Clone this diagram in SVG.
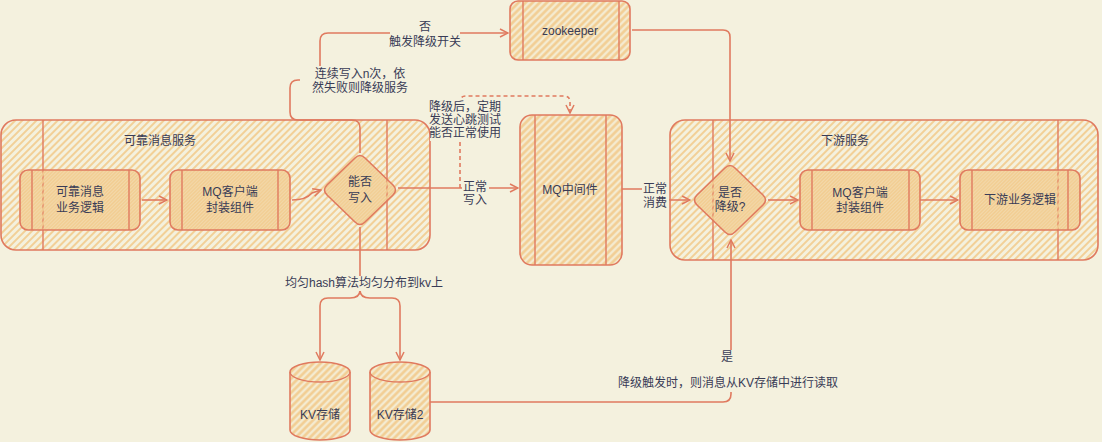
<svg xmlns="http://www.w3.org/2000/svg" width="1102" height="442" viewBox="0 0 1102 442">
<defs>
<pattern id="hc" width="5" height="5" patternUnits="userSpaceOnUse" patternTransform="rotate(45)"><line x1="1" y1="0" x2="1" y2="5" stroke="#F2CC8F" stroke-width="2" stroke-opacity="0.9"/></pattern>
<pattern id="hn" width="5" height="5" patternUnits="userSpaceOnUse" patternTransform="rotate(45)"><rect width="5" height="5" fill="#F2CC8F" fill-opacity="0.18"/><line x1="3.5" y1="0" x2="3.5" y2="5" stroke="#F2CC8F" stroke-width="2.4"/></pattern>
<marker id="arr" viewBox="0 0 10 10" refX="9" refY="5" markerWidth="10" markerHeight="10" markerUnits="userSpaceOnUse" orient="auto"><path d="M1,1 L9,5 L1,9" fill="none" stroke="#E07A5F" stroke-width="1.5"/></marker>
</defs>
<style>
.ct{fill:url(#hc);stroke:#E07A5F;stroke-width:1.6}
.nd{fill:url(#hn);stroke:#E07A5F;stroke-width:1.6}
.ln{fill:none;stroke:#E07A5F;stroke-width:1.4}
.e{fill:none;stroke:#E07A5F;stroke-width:1.6}
.d{stroke-dasharray:4 3}
.t{font-family:"Liberation Sans","Noto Sans CJK SC",sans-serif;font-size:12px;fill:#393C56;text-anchor:middle;dominant-baseline:central}
.bg{fill:#F4F1DE}
</style>
<rect width="1102" height="442" fill="#F4F1DE"/>

<g id="container-left">
<rect class="ct" x="1" y="120" width="429" height="130" rx="15"/>
<line class="ln" x1="43" y1="120" x2="43" y2="250"/>
<line class="ln" x1="387" y1="120" x2="387" y2="250"/>
<text class="t" x="160" y="141">可靠消息服务</text>
</g>
<g id="container-right">
<rect class="ct" x="670" y="120" width="428" height="140" rx="15"/>
<line class="ln" x1="713" y1="120" x2="713" y2="260"/>
<line class="ln" x1="1058" y1="120" x2="1058" y2="260"/>
<text class="t" x="845" y="141">下游服务</text>
</g>

<g id="connectors">
<path class="e" d="M142,200 L167,200" marker-end="url(#arr)"/>
<path class="e" d="M292,200 Q306,200 312,193 L321,190" marker-end="url(#arr)"/>
<path class="e" d="M398,188 L518,188" marker-end="url(#arr)"/>
<path class="e" d="M360,153 L360,128 Q360,120 352,120 L298,120 Q290,120 290,112 L290,88 Q290,80 298,80 L320,80 L320,41 Q320,33 328,33 L508,33" marker-end="url(#arr)"/>
<path class="e" d="M632,30 L723,30 Q730,30 730,37 L730,161" marker-end="url(#arr)"/>
<path class="e d" d="M460,188 L460,102 Q460,96 466,96 L564,96 Q570,96 570,102 L570,113" marker-end="url(#arr)"/>
<path class="e" d="M622,189 L655,189 L655,200 L690,200" marker-end="url(#arr)"/>
<path class="e" d="M768,200 L798,200" marker-end="url(#arr)"/>
<path class="e" d="M920,200 L958,200" marker-end="url(#arr)"/>
<path class="e" d="M360,227 L360,290"/>
<path class="e" d="M360,290 Q360,298 350,298 L328,298 Q320,298 320,306 L320,360" marker-end="url(#arr)"/>
<path class="e" d="M360,290 Q360,298 370,298 L392,298 Q400,298 400,306 L400,360" marker-end="url(#arr)"/>
<path class="e" d="M430,402 L723,402 Q731,402 731,394 L731,240" marker-end="url(#arr)"/>
</g>

<g id="n-biz">
<rect class="nd" x="20" y="170" width="120" height="60" rx="8"/>
<line class="ln" x1="32" y1="170" x2="32" y2="230"/><line class="ln" x1="129" y1="170" x2="129" y2="230"/>
<text class="t" x="80" y="192">可靠消息</text><text class="t" x="80" y="208">业务逻辑</text>
</g>
<g id="n-mqclient-left">
<rect class="nd" x="170" y="170" width="120" height="60" rx="8"/>
<line class="ln" x1="182" y1="170" x2="182" y2="230"/><line class="ln" x1="278" y1="170" x2="278" y2="230"/>
<text class="t" x="230" y="192">MQ客户端</text><text class="t" x="230" y="208">封装组件</text>
</g>
<g id="n-canwrite">
<path class="nd" d="M365,158 L393,185 Q398,190 393,195 L365,222 Q360,227 355,222 L327,195 Q322,190 327,185 L355,158 Q360,153 365,158 Z"/>
<text class="t" x="360" y="182">能否</text><text class="t" x="360" y="198">写入</text>
</g>
<g id="n-zookeeper">
<rect class="nd" x="510" y="1" width="120" height="59" rx="8"/>
<line class="ln" x1="523" y1="1" x2="523" y2="60"/><line class="ln" x1="619" y1="1" x2="619" y2="60"/>
<text class="t" x="570" y="31">zookeeper</text>
</g>
<g id="n-mq">
<rect class="nd" x="520" y="115" width="102" height="150" rx="12"/>
<line class="ln" x1="535" y1="115" x2="535" y2="265"/><line class="ln" x1="606" y1="115" x2="606" y2="265"/>
<text class="t" x="570" y="190">MQ中间件</text>
</g>
<g id="n-degrade">
<path class="nd" d="M735,168 L763,195 Q768,200 763,205 L735,232 Q730,237 725,232 L697,205 Q692,200 697,195 L725,168 Q730,163 735,168 Z"/>
<text class="t" x="730" y="193">是否</text><text class="t" x="730" y="207">降级?</text>
</g>
<g id="n-mqclient-right">
<rect class="nd" x="800" y="170" width="120" height="60" rx="8"/>
<line class="ln" x1="812" y1="170" x2="812" y2="230"/><line class="ln" x1="909" y1="170" x2="909" y2="230"/>
<text class="t" x="860" y="193">MQ客户端</text><text class="t" x="860" y="208">封装组件</text>
</g>
<g id="n-downbiz">
<rect class="nd" x="960" y="170" width="120" height="60" rx="8"/>
<line class="ln" x1="972" y1="170" x2="972" y2="230"/><line class="ln" x1="1068" y1="170" x2="1068" y2="230"/>
<text class="t" x="1020" y="200">下游业务逻辑</text>
</g>
<g id="n-kv1">
<path class="nd" d="M290,372 A30,10 0 0 1 350,372 L350,430 A30,10 0 0 1 290,430 Z"/>
<path class="ln" d="M290,372 A30,10 0 0 0 350,372"/>
<text class="t" x="320" y="415">KV存储</text>
</g>
<g id="n-kv2">
<path class="nd" d="M370,372 A30,10 0 0 1 430,372 L430,430 A30,10 0 0 1 370,430 Z"/>
<path class="ln" d="M370,372 A30,10 0 0 0 430,372"/>
<text class="t" x="400" y="415">KV存储2</text>
</g>

<g id="labels">
<rect class="bg" x="390" y="18" width="70" height="32"/>
<text class="t" x="425" y="27">否</text><text class="t" x="425" y="42">触发降级开关</text>
<rect class="bg" x="300" y="66" width="120" height="30"/>
<text class="t" x="360" y="74">连续写入n次，依</text><text class="t" x="360" y="88">然失败则降级服务</text>
<rect class="bg" x="430" y="99" width="72" height="42"/>
<text class="t" x="465" y="107">降级后，定期</text><text class="t" x="465" y="120">发送心跳测试</text><text class="t" x="465" y="133">能否正常使用</text>
<rect class="bg" x="462" y="180" width="27" height="28"/>
<text class="t" x="475" y="187">正常</text><text class="t" x="475" y="200">写入</text>
<rect class="bg" x="642" y="182" width="27" height="28"/>
<text class="t" x="655" y="189">正常</text><text class="t" x="655" y="203">消费</text>
<rect class="bg" x="290" y="276" width="148" height="15"/>
<text class="t" x="364" y="283">均匀hash算法均匀分布到kv上</text>
<rect class="bg" x="718" y="350" width="22" height="42"/>
<text class="t" x="727" y="357">是</text>
<rect class="bg" x="624" y="376" width="208" height="15"/>
<text class="t" x="728" y="383">降级触发时，则消息从KV存储中进行读取</text>
</g>
</svg>
